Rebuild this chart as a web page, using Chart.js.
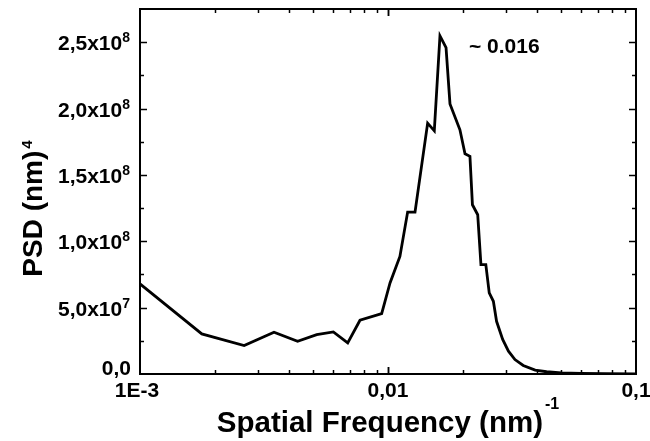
<!DOCTYPE html>
<html>
<head>
<meta charset="utf-8">
<script src="https://cdn.jsdelivr.net/npm/chart.js@4/dist/chart.umd.min.js"></script>
<style>
  html, body { margin: 0; padding: 0; background: #fff; }
  #psdChart { display: block; }
</style>
</head>
<body>
<canvas id="psdChart" width="650" height="441"></canvas>
<script>
// Data
const freq = [1.0e-3, 1.775e-3, 2.63e-3, 3.47e-3, 4.32e-3, 5.16e-3, 6.02e-3, 6.88e-3, 7.71e-3, 9.43e-3,
              1.019e-2, 1.117e-2, 1.2e-2, 1.285e-2, 1.445e-2, 1.537e-2, 1.62e-2, 1.714e-2, 1.778e-2, 1.95e-2,
              2.044e-2, 2.14e-2, 2.19e-2, 2.30e-2, 2.37e-2, 2.48e-2, 2.56e-2, 2.66e-2, 2.74e-2, 2.90e-2,
              3.06e-2, 3.25e-2, 3.51e-2, 3.92e-2, 4.36e-2, 5.0e-2, 6.0e-2, 7.5e-2, 0.1];
const psd = [0.679e8, 0.302e8, 0.214e8, 0.315e8, 0.247e8, 0.297e8, 0.317e8, 0.235e8, 0.405e8, 0.455e8,
             0.686e8, 0.886e8, 1.22e8, 1.22e8, 1.89e8, 1.832e8, 2.547e8, 2.459e8, 2.035e8, 1.84e8,
             1.659e8, 1.64e8, 1.275e8, 1.20e8, 0.824e8, 0.824e8, 0.611e8, 0.548e8, 0.397e8, 0.26e8,
             0.172e8, 0.109e8, 0.064e8, 0.029e8, 0.017e8, 0.008e8, 0.004e8, 0.002e8, 0.001e8];

// Tick labels
const yTickValues = [0, 0.5e8, 1.0e8, 1.5e8, 2.0e8, 2.5e8];
const yTickMantissa = ['0,0', '5,0x10', '1,0x10', '1,5x10', '2,0x10', '2,5x10'];
const yTickExponent = ['', '7', '8', '8', '8', '8'];
const xTickValues = [1e-3, 1e-2, 1e-1];
const xTickLabels = ['1E-3', '0,01', '0,1'];

const peakNote = '~ 0.016';
const peakNoteAt = { x: 0.0212, y: 2.42e8 };

const FONT = '"Liberation Sans", Arial, Helvetica, sans-serif';

// Frame, inward ticks, tick labels, titles (Origin-like look)
const frameAndLabels = {
    id: 'frameAndLabels',
    afterDraw(chart) {
        const ctx = chart.ctx;
        const a = chart.chartArea;
        const xs = chart.scales.x;
        const ys = chart.scales.y;
        ctx.save();
        ctx.strokeStyle = '#000';
        ctx.fillStyle = '#000';
        ctx.lineWidth = 2;
        ctx.strokeRect(a.left, a.top, a.right - a.left, a.bottom - a.top);

        ctx.lineWidth = 1.5;
        const tick = (x1, y1, x2, y2) => { ctx.beginPath(); ctx.moveTo(x1, y1); ctx.lineTo(x2, y2); ctx.stroke(); };

        // y ticks, majors and minors on both sides
        for (let v = 0; v < 2.76e8; v += 0.25e8) {
            const py = Math.round(ys.getPixelForValue(v)) + 0.5;
            if (py < a.top + 2 || py > a.bottom - 2) continue;
            const major = Math.round(v / 0.25e8) % 2 === 0;
            const len = major ? 7 : 4;
            tick(a.left, py, a.left + len, py);
            tick(a.right, py, a.right - len, py);
        }
        // x ticks (log), majors and minors on both sides
        for (let d = -3; d < -1; d++) {
            for (let m = 1; m <= 10; m++) {
                const v = m * Math.pow(10, d);
                const px = Math.round(xs.getPixelForValue(v)) + 0.5;
                if (px < a.left + 2 || px > a.right - 2) continue;
                const len = (m === 1 || m === 10) ? 7 : 4;
                tick(px, a.bottom, px, a.bottom - len);
                tick(px, a.top, px, a.top + len);
            }
        }

        // y tick labels with superscript exponents
        ctx.textBaseline = 'alphabetic';
        yTickValues.forEach((v, i) => {
            const py = ys.getPixelForValue(v);
            const rightEdge = a.left - 11;
            const base = i === 0 ? py + 1 : py + 8;
            ctx.font = 'bold 14px ' + FONT;
            const supW = yTickExponent[i] ? ctx.measureText(yTickExponent[i]).width : 0;
            if (yTickExponent[i]) {
                ctx.textAlign = 'right';
                ctx.fillText(yTickExponent[i], rightEdge + 1, base - 8);
            }
            ctx.font = 'bold 21px ' + FONT;
            ctx.textAlign = 'right';
            ctx.fillText(yTickMantissa[i], rightEdge - supW + (i === 0 ? 2 : 1), base);
        });

        // x tick labels
        ctx.font = 'bold 21px ' + FONT;
        ctx.textAlign = 'center';
        xTickValues.forEach((v, i) => {
            const px = xs.getPixelForValue(v);
            ctx.fillText(xTickLabels[i], i === 0 ? px - 3 : px, a.bottom + 23);
        });

        // x title with superscript
        const xt = 'Spatial Frequency (nm)';
        const xsup = '-1';
        ctx.font = 'bold 29.5px ' + FONT;
        const xtW = ctx.measureText(xt).width;
        ctx.font = 'bold 16px ' + FONT;
        const xsupW = ctx.measureText(xsup).width;
        const xStart = (a.left + a.right) / 2 - (xtW + 2 + xsupW) / 2;
        ctx.textAlign = 'left';
        ctx.font = 'bold 29.5px ' + FONT;
        ctx.fillText(xt, xStart, 432);
        ctx.font = 'bold 16px ' + FONT;
        ctx.fillText(xsup, xStart + xtW + 2, 409);

        // y title, rotated, with superscript
        const yt = 'PSD (nm)';
        const ysup = '4';
        ctx.translate(41.5, (a.top + a.bottom) / 2 + 17);
        ctx.rotate(-Math.PI / 2);
        ctx.font = 'bold 28px ' + FONT;
        const ytW = ctx.measureText(yt).width;
        ctx.font = 'bold 15px ' + FONT;
        const ysupW = ctx.measureText(ysup).width;
        const yStart = -(ytW + 2 + ysupW) / 2;
        ctx.font = 'bold 28px ' + FONT;
        ctx.fillText(yt, yStart, 0);
        ctx.font = 'bold 15px ' + FONT;
        ctx.fillText(ysup, yStart + ytW + 2, -10);
        ctx.restore();

        // peak annotation
        ctx.save();
        ctx.font = 'bold 21px ' + FONT;
        ctx.fillStyle = '#000';
        ctx.textAlign = 'left';
        ctx.textBaseline = 'alphabetic';
        ctx.fillText(peakNote, xs.getPixelForValue(peakNoteAt.x), ys.getPixelForValue(peakNoteAt.y));
        ctx.restore();
    }
};

document.addEventListener('DOMContentLoaded', () => {
    const ctx = document.getElementById('psdChart');
    new Chart(ctx, {
        type: 'line',
        data: {
            datasets: [{
                label: 'PSD',
                data: freq.map((f, i) => ({ x: f, y: psd[i] })),
                borderColor: '#000',
                borderWidth: 2.8,
                pointRadius: 0,
                tension: 0,
                fill: false
            }]
        },
        options: {
            responsive: false,
            animation: false,
            layout: { padding: { left: 0, right: 14, top: 9, bottom: 0 } },
            plugins: { legend: { display: false }, tooltip: { enabled: false } },
            scales: {
                x: {
                    type: 'logarithmic',
                    min: 1e-3,
                    max: 0.1,
                    ticks: { display: false },
                    grid: { display: false },
                    border: { display: false },
                    afterFit: s => { s.height = 67; }
                },
                y: {
                    type: 'linear',
                    min: 0,
                    max: 2.75e8,
                    ticks: { display: false },
                    grid: { display: false },
                    border: { display: false },
                    afterFit: s => { s.width = 140; }
                }
            }
        },
        plugins: [frameAndLabels]
    });
});
</script>
</body>
</html>
